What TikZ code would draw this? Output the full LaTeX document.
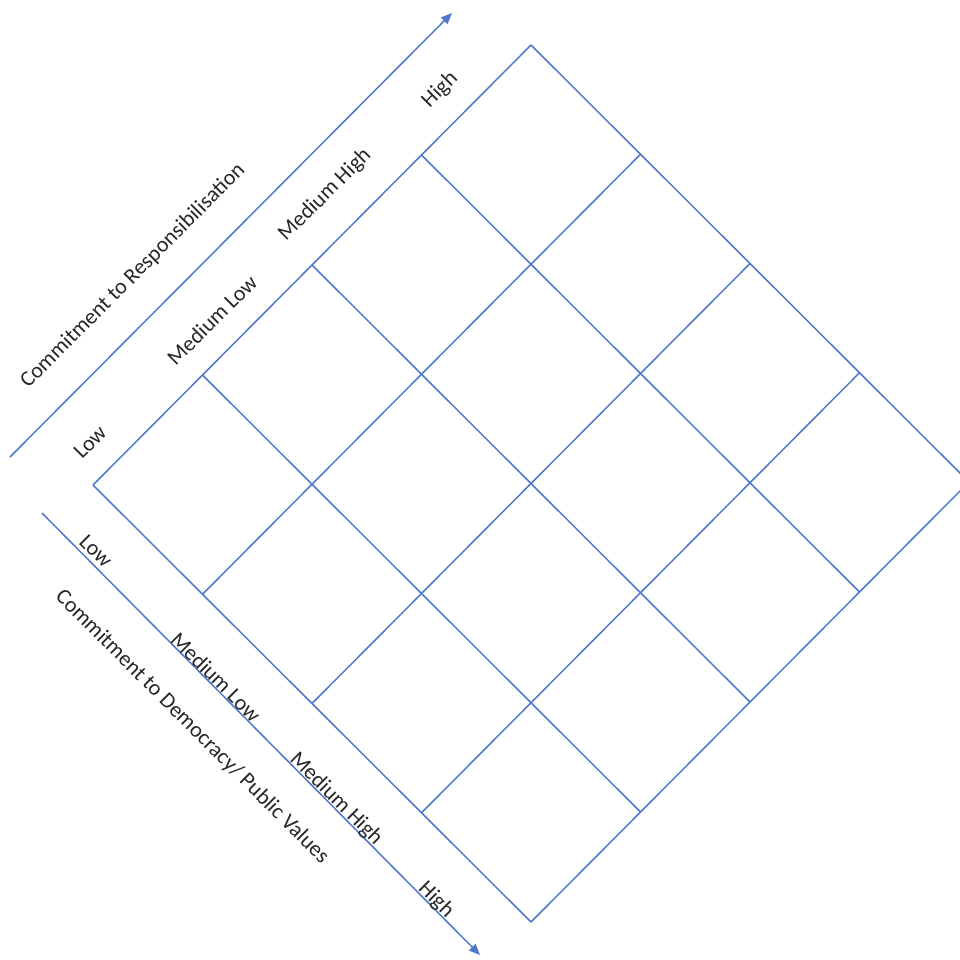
\documentclass[tikz,border=0pt]{standalone}
\usepackage{fontspec}
\setmainfont{Carlito}
\usetikzlibrary{arrows.meta,calc}
\definecolor{officeblue}{RGB}{78,121,202}

\begin{document}
\begin{tikzpicture}[
    x=1pt, y=-1pt,
    grid/.style={draw=officeblue, line width=1.5pt},
    axis/.style={-{Triangle[length=11pt,width=9pt]}, draw=officeblue, line width=1.5pt},
    lbl/.style={font=\fontsize{22}{26}\selectfont, text=black!85, inner sep=0pt},
    up/.style={lbl, rotate=45},
    dn/.style={lbl, rotate=-45}
]
\clip (0,0) rectangle (960,959);

% --- Grid corners ---
\foreach \i in {0,...,4}
  \foreach \j in {0,...,4}
    \coordinate (g\i\j) at ($(93,485)+\i*(109.5,-110)+\j*(109.5,109.25)$);

% --- Grid lines ---
\foreach \k in {0,...,4} {
  \draw[grid] (g\k0) -- (g\k4);
  \draw[grid] (g0\k) -- (g4\k);
}

% --- Axes ---
\coordinate (r0) at (10,457);
\coordinate (r1) at (452,13);
\coordinate (d0) at (42,513);
\coordinate (d1) at (480,955);
\draw[axis] (r0) -- (r1);
\draw[axis] (d0) -- (d1);

% --- Responsibilisation labels ---
\node[up] (resp) at (133,276) {Commitment to Responsibilisation};
\node[up] (rlow) at (90,442) {Low};
\node[up] (rml) at (212,320) {Medium Low};
\node[up] (rmh) at (325,195) {Medium High};
\node[up] (rhigh) at (440,90) {High};

% --- Democracy labels ---
\node[dn] (demo) at (192,727) {Commitment to Democracy/ Public Values};
\node[dn] (dlow) at (96,551) {Low};
\node[dn] (dml) at (216,677) {Medium Low};
\node[dn] (dmh) at (336,799) {Medium High};
\node[dn] (dhigh) at (436,900) {High};
\end{tikzpicture}
\end{document}
